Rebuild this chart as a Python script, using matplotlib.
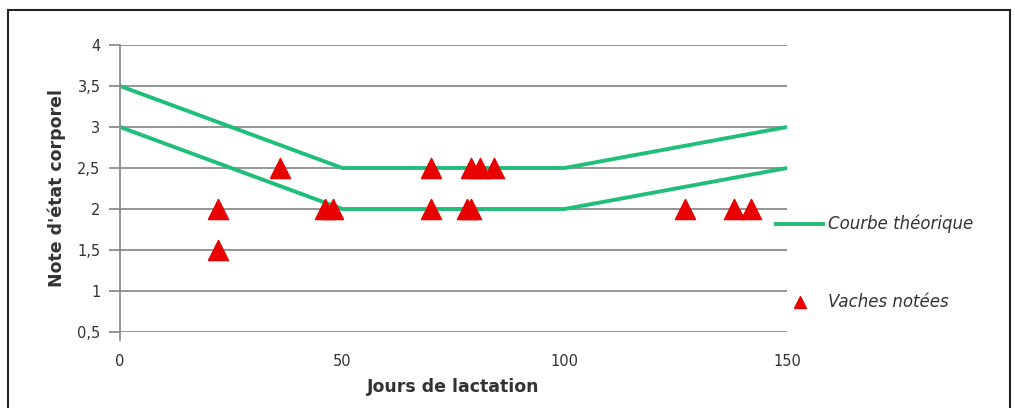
import numpy as np
import matplotlib.pyplot as plt
from matplotlib.lines import Line2D
from matplotlib.patches import Rectangle

# Courbes théoriques (jours, note)
jours_courbe = [0, 50, 100, 150]
note_haute = [3.5, 2.5, 2.5, 3.0]
note_basse = [3.0, 2.0, 2.0, 2.5]

# Vaches notées
jours_vaches = [22, 22, 36, 46, 48, 70, 70, 78, 79, 79, 81, 84, 127, 138, 142]
notes_vaches = [2.0, 1.5, 2.5, 2.0, 2.0, 2.0, 2.5, 2.0, 2.0, 2.5, 2.5, 2.5, 2.0, 2.0, 2.0]

y_ticks = [0.5, 1, 1.5, 2, 2.5, 3, 3.5, 4]
y_labels = ["0,5", "1", "1,5", "2", "2,5", "3", "3,5", "4"]
x_ticks = [0, 50, 100, 150]

vert = "#1fbf7a"
rouge = "#e80000"
gris = "#8c8c8c"
texte = "#333333"

fig = plt.figure(figsize=(10.15, 4.08), dpi=100)
ax = fig.add_axes([0.1182, 0.1863, 0.6572, 0.7034])

for y in y_ticks:
    ax.axhline(y, color=gris, lw=1.3, zorder=1)

ax.plot(jours_courbe, note_haute, color=vert, lw=2.8, zorder=2)
ax.plot(jours_courbe, note_basse, color=vert, lw=2.8, zorder=2)
ax.scatter(jours_vaches, notes_vaches, marker="^", s=210, color=rouge, zorder=3)

ax.set_xlim(0, 150)
ax.set_ylim(0.5, 4)
ax.set_yticks(y_ticks)
ax.set_yticklabels(y_labels)
ax.set_xticks(x_ticks)

for s in ["top", "right", "bottom"]:
    ax.spines[s].set_visible(False)
ax.spines["left"].set_color(gris)
ax.spines["left"].set_linewidth(1.3)
ax.spines["left"].set_bounds(0.4, 4)
ax.tick_params(axis="y", length=8, width=1.3, color=gris, labelsize=10.5, labelcolor=texte, pad=6)
ax.tick_params(axis="x", length=0, labelsize=10.5, labelcolor=texte, pad=16)

ax.set_xlabel("Jours de lactation", fontsize=12.5, fontweight="bold", color=texte, labelpad=6)
ax.set_ylabel("Note d'état corporel", fontsize=12.5, fontweight="bold", color=texte, labelpad=8)

handles = [
    Line2D([], [], color=vert, lw=2.8),
    Line2D([], [], color=rouge, marker="^", ls="none", markersize=9),
]
fig.legend(handles, ["Courbe théorique", "Vaches notées"], loc="upper left",
           bbox_to_anchor=(0.75, 0.51), frameon=False, handlelength=2.8,
           handletextpad=0.3, labelspacing=3.6,
           prop={"style": "italic", "size": 12})
for t in fig.legends[0].get_texts():
    t.set_color(texte)

fig.patches.append(Rectangle((8 / 1015, -0.01), 1002 / 1015, 0.985,
                             transform=fig.transFigure, fill=False,
                             edgecolor="#222222", lw=1.5))

fig.savefig("out.png", dpi=100)
